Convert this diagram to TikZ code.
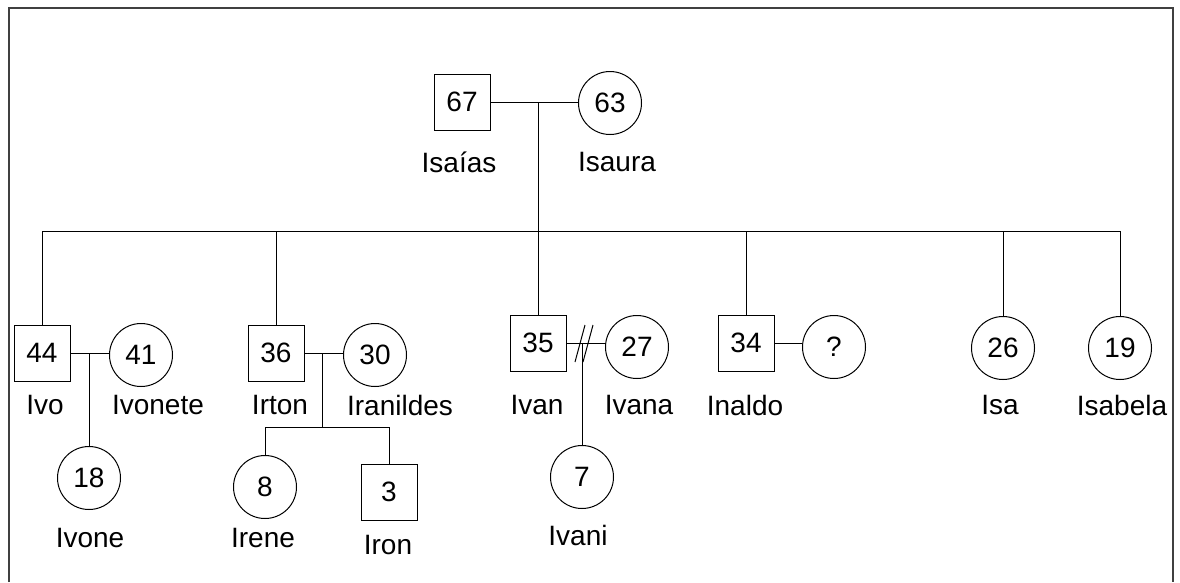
\documentclass[tikz,border=0pt]{standalone}
\usepackage{fontspec}
\setmainfont{Liberation Sans}
\begin{document}
\begin{tikzpicture}[x=1pt,y=-1pt,
  line width=1pt,
  txt/.style={font=\fontsize{28}{32}\selectfont, inner sep=0pt},
  male/.style={txt, draw, rectangle, minimum size=56pt},
  female/.style={txt, draw, circle, minimum size=63pt},
  lbl/.style={txt},
  frame/.style={line width=2pt, draw=black!75}]
\useasboundingbox (0,0) rectangle (1180,582);
\fill[white] (0,0) rectangle (1180,582);
% open frame
\draw[frame] (9,582) -- (9,8) -- (1173,8) -- (1173,582);

% grandparents
\node[male]   (isaias) at (462,102) {67};
\node[female] (isaura) at (610,103) {63};
\node[lbl] (lisaias) at (459,162) {Isaías};
\node[lbl] (lisaura) at (617,162) {Isaura};
\coordinate (gpm) at (538,102);
\draw (isaias.east) -- (isaias.east -| isaura.west);
\coordinate (bar) at (538,231);
\draw (gpm) -- (bar);

% children of the grandparents
\node[male]   (ivo)    at (42,353)   {44};
\node[female] (ivonete) at (141,355) {41};
\node[male]   (irton)  at (276,353)  {36};
\node[female] (iranildes) at (375,355) {30};
\node[male]   (ivan)   at (538,343)  {35};
\node[female] (ivana)  at (637,347)  {27};
\node[male]   (inaldo) at (746,343)  {34};
\node[female] (unk)    at (834,347)  {?};
\node[female] (isa)    at (1003,348) {26};
\node[female] (isabela) at (1120,348) {19};

\node[lbl] (livo)     at (45,405)   {Ivo};
\node[lbl] (livonete) at (158,405)  {Ivonete};
\node[lbl] (lirton)   at (280,405)  {Irton};
\node[lbl] (liranildes) at (400,405) {Iranildes};
\node[lbl] (livan)    at (537,405)  {Ivan};
\node[lbl] (livana)   at (639,405)  {Ivana};
\node[lbl] (linaldo)  at (745,405)  {Inaldo};
\node[lbl] (lisa)     at (1000,405) {Isa};
\node[lbl] (lisabela) at (1122,405) {Isabela};

% sibship line
\draw (ivo.north |- bar) -- (isabela.north |- bar);
\foreach \c in {ivo,irton,ivan,inaldo,isa,isabela}
  \draw (\c.north |- bar) -- (\c.north);

% couples
\draw (ivo.east) -- (ivo.east -| ivonete.west);
\draw (irton.east) -- (irton.east -| iranildes.west);
\draw (ivan.east) -- (ivan.east -| ivana.west);
\draw (inaldo.east) -- (inaldo.east -| unk.west);
% separation mark
\draw (575,362) -- (585,325);
\draw (583,362) -- (593,325);

% grandchildren
\node[female] (ivone) at (89,478)  {18};
\node[female] (irene) at (265,487) {8};
\node[male]   (iron)  at (389,492) {3};
\node[female] (ivani) at (582,477) {7};
\node[lbl] (livone) at (90,538)  {Ivone};
\node[lbl] (lirene) at (263,538) {Irene};
\node[lbl] (liron)  at (388,545) {Iron};
\node[lbl] (livani) at (578,535) {Ivani};

\coordinate (m1) at (89,353);
\draw (m1) -- (ivone.north);
\coordinate (m2) at (322,353);
\coordinate (m2b) at (322,427);
\draw (m2) -- (m2b);
\draw (irene.north |- m2b) -- (iron.north |- m2b);
\draw (irene.north |- m2b) -- (irene.north);
\draw (iron.north |- m2b) -- (iron.north);
\coordinate (m3) at (582,343);
\draw (m3) -- (ivani.north);
\end{tikzpicture}
\end{document}
